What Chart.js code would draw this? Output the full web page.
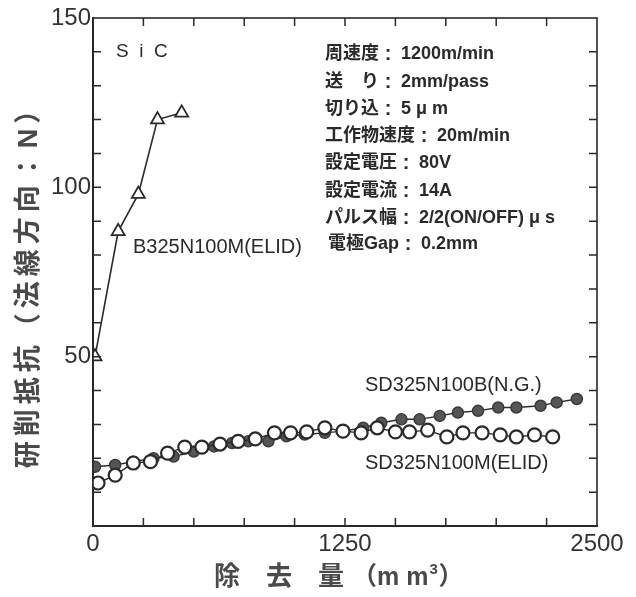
<!DOCTYPE html>
<html>
<head>
<meta charset="utf-8">
<script src="https://cdn.jsdelivr.net/npm/chart.js@4"></script>
<style>
  body { margin: 0; background: #fff; }
  #wrap { width: 636px; height: 597px; }
</style>
</head>
<body>
<div id="wrap"><canvas id="chart" width="636" height="597"></canvas></div>
<script>
// B325N100M(ELID) - open triangles
const triX = [10, 125, 225, 320, 440];
const triY = [50, 87, 98, 120, 122];

// SD325N100B(N.G.) - filled circles
const ngX = [10, 110, 200, 300, 400, 500, 600, 690, 770, 870, 960, 1050, 1150, 1240, 1340, 1430, 1530, 1620, 1720, 1810, 1910, 2010, 2100, 2220, 2300, 2400];
const ngY = [17.5, 18, 19, 20, 20.5, 22, 23.5, 24.5, 25, 25, 26.5, 27, 27.5, 28, 29, 30.5, 31.5, 31.5, 32.5, 33.5, 34, 35, 35, 35.5, 36.5, 37.5];

// SD325N100M(ELID) - open circles
const elidX = [25, 110, 200, 285, 370, 455, 540, 630, 720, 805, 900, 980, 1060, 1150, 1240, 1330, 1410, 1500, 1570, 1660, 1755, 1835, 1930, 2020, 2100, 2190, 2280];
const elidY = [12.7, 15, 18.6, 19, 21.5, 23.3, 23.3, 24.2, 25, 25.7, 27.5, 27.5, 27.8, 29, 28, 27.5, 29, 27.8, 27.8, 28.3, 26.3, 27.5, 27.5, 26.9, 26.3, 26.9, 26.3];

const xTickLabels = [0, 1250, 2500];
const yTickLabels = [50, 100, 150];

const condKeys = ['周速度', '送　り', '切り込', '工作物速度', '設定電圧', '設定電流', 'パルス幅', '電極Gap'];
const condVals = ['1200m/min', '2mm/pass', '5 μ m', '20m/min', '80V', '14A', '2/2(ON/OFF) μ s', '0.2mm'];

const pts = (xs, ys) => xs.map((x, i) => ({ x: x, y: ys[i] }));
const ink = '#2a2a2a';
const numFont = '"Liberation Sans", Arial, sans-serif';
const jpFont = '"Liberation Sans", "Noto Sans CJK JP", sans-serif';

// inward ticks on all four sides, box, and text labels
const decor = {
  id: 'decor',
  afterDraw(chart) {
    const ctx = chart.ctx;
    const a = chart.chartArea;
    const xs = chart.scales.x, ys = chart.scales.y;
    ctx.save();
    ctx.strokeStyle = ink;
    ctx.lineWidth = 1.6;
    ctx.strokeRect(a.left, a.top, a.right - a.left, a.bottom - a.top);
    ctx.lineWidth = 1.5;
    ctx.beginPath();
    for (let v = 250; v < 2500; v += 250) {
      const px = xs.getPixelForValue(v);
      ctx.moveTo(px, a.bottom); ctx.lineTo(px, a.bottom - 8);
      ctx.moveTo(px, a.top); ctx.lineTo(px, a.top + 8);
    }
    for (let v = 10; v < 150; v += 10) {
      const py = ys.getPixelForValue(v);
      ctx.moveTo(a.left, py); ctx.lineTo(a.left + 8, py);
      ctx.moveTo(a.right, py); ctx.lineTo(a.right - 8, py);
    }
    ctx.stroke();

    ctx.fillStyle = ink;
    ctx.textBaseline = 'middle';
    // condition block
    const cy = [54, 82, 109, 136, 163, 191, 218, 244];
    condKeys.forEach((k, i) => {
      const x0 = i === 7 ? 328 : 325;
      ctx.font = 'bold 18px ' + jpFont;
      ctx.textAlign = 'left';
      ctx.fillText(k, x0, cy[i]);
      const w = ctx.measureText(k).width;
      ctx.fillText(condVals[i], x0 + w + 22, cy[i]);
      ctx.font = 'bold 20px ' + numFont;
      ctx.textAlign = 'center';
      ctx.fillText(':', x0 + w + 9, cy[i]);
    });
    ctx.textAlign = 'left';
    // material
    ctx.font = '19px ' + numFont;
    ctx.fillText('S  i  C', 116, 52);
    // series names
    ctx.font = '20px ' + numFont;
    ctx.fillText('B325N100M(ELID)', 133, 247);
    ctx.fillText('SD325N100B(N.G.)', 365, 385);
    ctx.fillText('SD325N100M(ELID)', 365, 463);

    // axis titles
    ctx.fillStyle = '#4a4a4a';
    ctx.font = 'bold 26px ' + jpFont;
    ctx.fillText('除　去　量', 214, 578);
    ctx.font = 'bold 25px ' + jpFont;
    ctx.fillText('（m m', 352, 578);
    const pw = ctx.measureText('（m m').width;
    ctx.font = 'bold 15px ' + numFont;
    ctx.fillText('3', 352 + pw + 1, 570);
    ctx.font = 'bold 25px ' + jpFont;
    ctx.fillText('）', 352 + pw + 10, 578);
    ctx.textAlign = 'center';
    ctx.font = 'bold 27px ' + jpFont;
    ctx.letterSpacing = '5px';
    ctx.translate(30, 280);
    ctx.rotate(-Math.PI / 2);
    ctx.fillText('研削抵抗（法線方向：N）', 0, 0);
    ctx.restore();
  }
};

new Chart(document.getElementById('chart'), {
  type: 'line',
  data: {
    datasets: [
      {
        label: 'SD325N100M(ELID)',
        data: pts(elidX, elidY),
        borderColor: ink, borderWidth: 1.4,
        pointStyle: 'circle', pointRadius: 6.5,
        pointBackgroundColor: '#fff', pointBorderColor: ink, pointBorderWidth: 2.2
      },
      {
        label: 'SD325N100B(N.G.)',
        data: pts(ngX, ngY),
        borderColor: ink, borderWidth: 1.4,
        pointStyle: 'circle', pointRadius: 5.5,
        pointBackgroundColor: '#555', pointBorderColor: '#3a3a3a', pointBorderWidth: 1.5
      },
      {
        label: 'B325N100M(ELID)',
        data: pts(triX, triY),
        borderColor: ink, borderWidth: 1.6,
        pointStyle: 'triangle', pointRadius: 7.5,
        pointBackgroundColor: '#fff', pointBorderColor: ink, pointBorderWidth: 1.8
      }
    ]
  },
  options: {
    responsive: false,
    animation: false,
    layout: { padding: { left: 0, right: 39, top: 18, bottom: 0 } },
    plugins: { legend: { display: false }, tooltip: { enabled: false } },
    scales: {
      x: {
        type: 'linear', min: 0, max: 2500,
        grid: { display: false, drawTicks: false },
        border: { display: true, color: ink, width: 2 },
        afterFit: (s) => { s.height = 71; },
        ticks: {
          stepSize: 250, autoSkip: false, maxRotation: 0, padding: 4,
          color: '#333', font: { family: numFont, size: 24 },
          callback: (v) => xTickLabels.includes(v) ? String(v) : ''
        }
      },
      y: {
        min: 0, max: 150,
        grid: { display: false, drawTicks: false },
        border: { display: true, color: ink, width: 2 },
        afterFit: (s) => { s.width = 93; },
        ticks: {
          stepSize: 10, autoSkip: false, padding: 2,
          color: '#333', font: { family: numFont, size: 24 },
          callback: (v) => yTickLabels.includes(v) ? String(v) : ''
        }
      }
    }
  },
  plugins: [decor]
});
</script>
</body>
</html>
